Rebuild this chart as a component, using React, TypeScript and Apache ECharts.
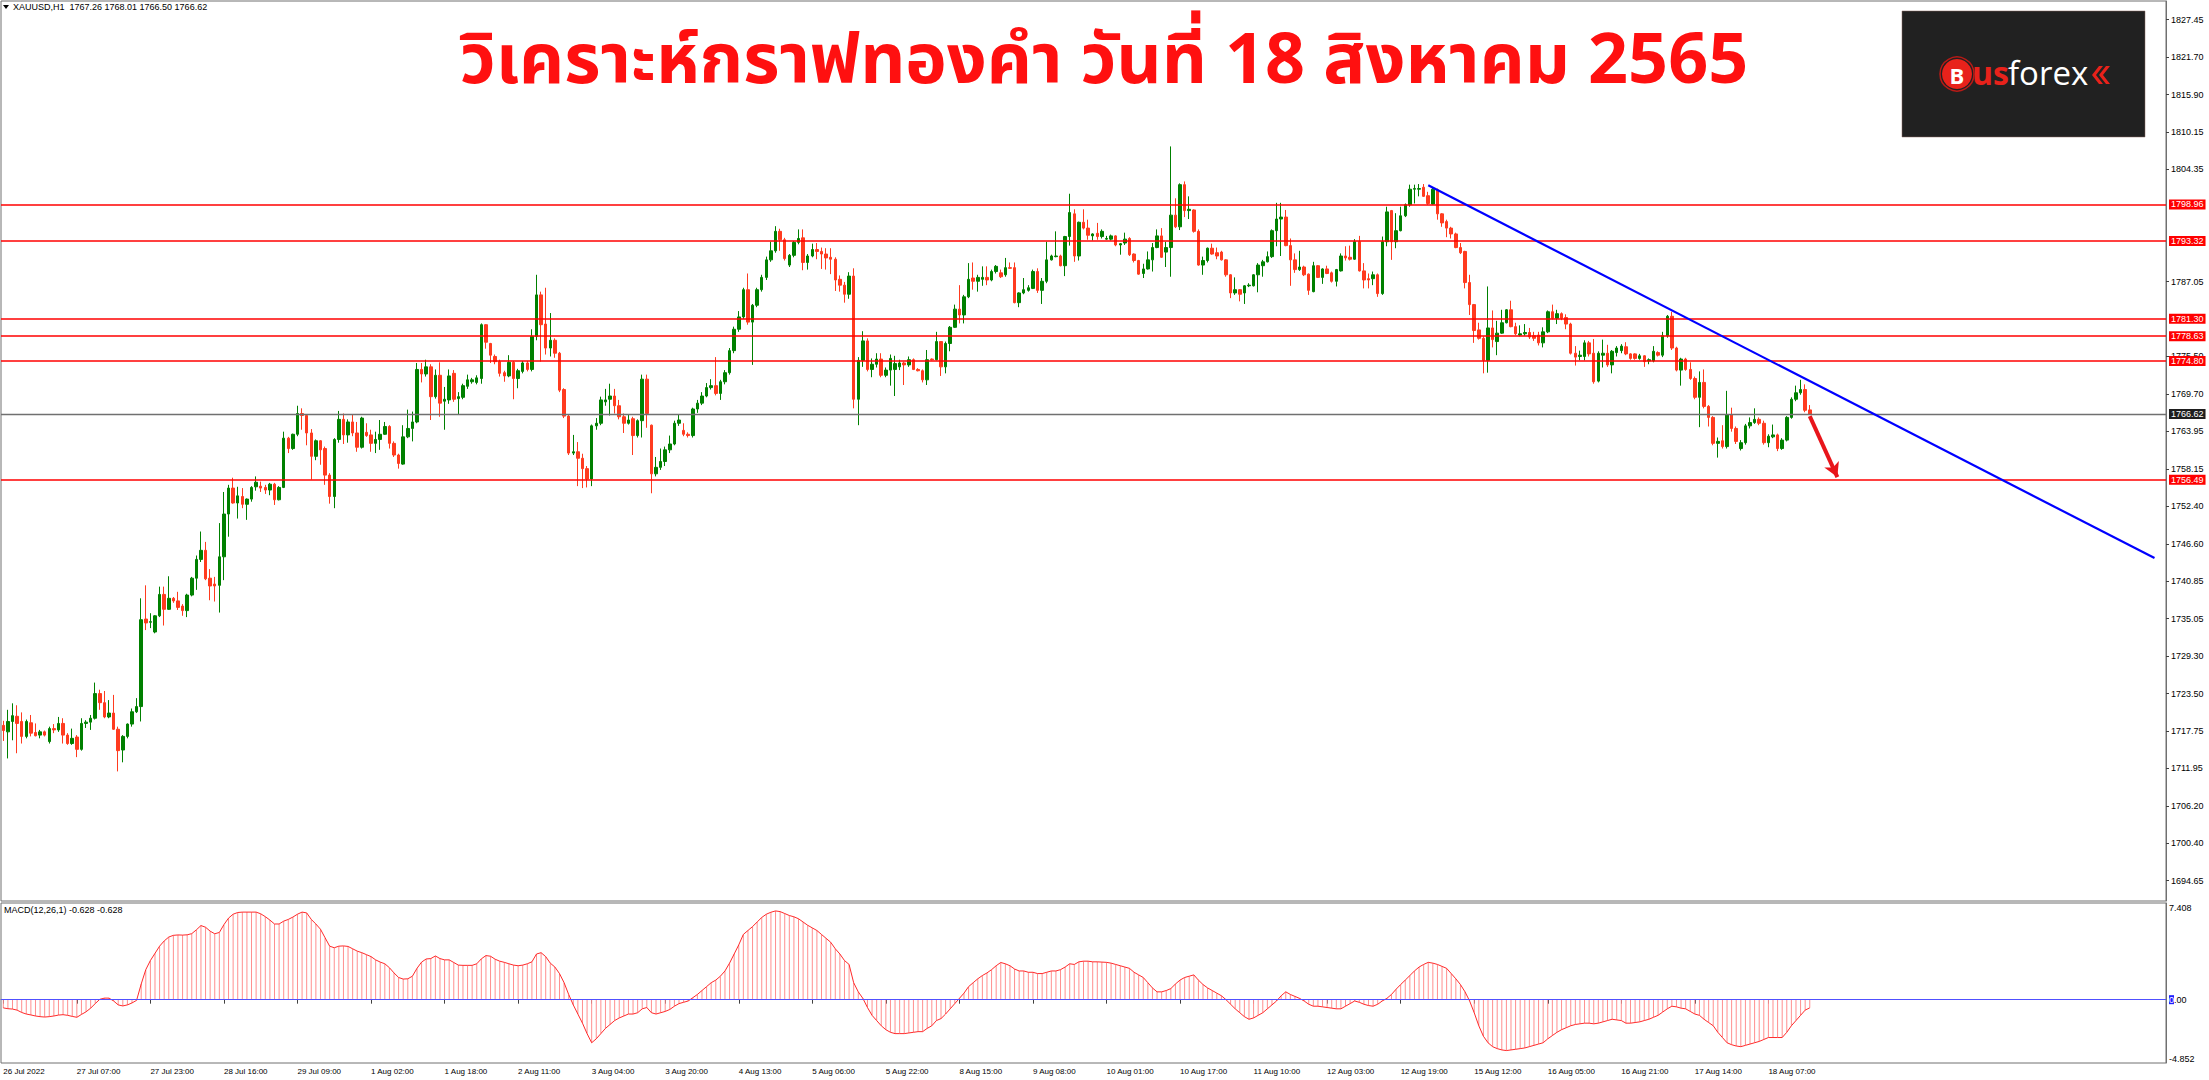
import React, { useEffect, useRef } from "react";
import * as echarts from "echarts";

// ---------- DATA ----------
const tickLabels = [
  "26 Jul 2022", "27 Jul 07:00", "27 Jul 23:00", "28 Jul 16:00", "29 Jul 09:00",
  "1 Aug 02:00", "1 Aug 18:00", "2 Aug 11:00", "3 Aug 04:00", "3 Aug 20:00",
  "4 Aug 13:00", "5 Aug 06:00", "5 Aug 22:00", "8 Aug 15:00", "9 Aug 08:00",
  "10 Aug 01:00", "10 Aug 17:00", "11 Aug 10:00", "12 Aug 03:00", "12 Aug 19:00",
  "15 Aug 12:00", "16 Aug 05:00", "16 Aug 21:00", "17 Aug 14:00", "18 Aug 07:00",
];
const barsPerTick = 16;
const slotCount = 471;

// [open, high, low, close]
const week1: number[][] = [
  [1718.6,1719.3,1716.2,1717.8],[1717.6,1721.0,1713.5,1719.2],[1719.2,1722.0,1716.3,1720.1],[1720.0,1721.7,1714.3,1718.9],
  [1719.2,1720.6,1715.8,1716.9],[1716.9,1719.5,1716.6,1719.2],[1719.0,1720.2,1716.9,1717.4],[1717.5,1718.9,1716.9,1717.0],
  [1717.1,1717.9,1716.6,1717.6],[1717.6,1717.8,1716.9,1717.1],[1716.1,1718.4,1715.8,1718.1],[1718.1,1718.8,1717.4,1717.9],
  [1717.9,1719.9,1717.6,1718.9],[1718.9,1719.7,1715.8,1717.1],[1717.1,1717.4,1715.6,1715.8],[1715.8,1718.1,1715.6,1716.6],
  [1716.8,1717.1,1713.7,1714.9],[1714.9,1719.7,1714.7,1718.9],[1718.9,1719.4,1718.2,1719.1],[1719.1,1720.2,1717.9,1719.7],
  [1719.7,1725.2,1719.5,1723.5],[1723.5,1724.1,1721.0,1722.1],[1722.1,1723.9,1719.7,1719.9],[1719.9,1722.5,1719.7,1720.5],
  [1720.5,1723.3,1717.9,1718.0],[1718.0,1718.4,1711.5,1714.7],[1714.8,1717.1,1712.9,1716.9],[1716.9,1718.9,1716.6,1718.8],
  [1718.8,1721.2,1718.4,1720.7],[1720.7,1722.8,1720.5,1721.5],[1721.5,1738.2,1719.2,1734.9],[1735.0,1740.2,1733.3,1734.4],
  [1734.5,1735.9,1733.6,1734.6],[1733.0,1735.6,1732.8,1735.5],[1735.5,1740.0,1735.3,1738.8],[1738.8,1740.0,1734.0,1736.5],
  [1736.5,1741.6,1736.4,1738.2],[1738.2,1738.4,1737.5,1737.8],[1737.8,1739.2,1736.4,1736.8],[1737.0,1737.3,1735.5,1736.3],
  [1736.3,1738.9,1735.3,1738.7],[1738.7,1741.5,1738.5,1741.3],[1741.3,1744.8,1739.5,1744.2],[1744.2,1748.5,1743.8,1745.6],
  [1745.6,1746.9,1741.0,1741.2],[1741.3,1742.7,1737.9,1740.1],[1740.4,1741.5,1737.7,1740.1],[1740.2,1749.8,1736.0,1744.6],
  [1744.6,1754.6,1741.0,1751.2],[1751.2,1755.7,1747.7,1755.2],[1755.2,1756.8,1752.8,1752.9],[1752.9,1755.4,1750.5,1754.0],
  [1753.9,1755.2,1752.1,1752.7],[1752.7,1753.6,1750.3,1753.5],[1753.5,1755.5,1753.1,1755.3],[1755.4,1757.0,1754.8,1756.1],
  [1755.5,1756.2,1754.6,1755.2],[1755.3,1755.7,1754.3,1754.9],[1754.9,1756.0,1754.1,1755.8],[1755.8,1756.0,1752.6,1753.4],
  [1753.4,1755.5,1753.3,1755.3],[1755.3,1763.9,1755.2,1762.9],[1762.9,1763.1,1760.6,1761.3],[1761.3,1763.6,1761.1,1763.5],
  [1763.5,1767.9,1763.2,1766.7],[1766.7,1767.5,1764.2,1766.4],[1766.4,1766.5,1761.8,1763.7],[1763.7,1764.3,1756.5,1760.1],
  [1760.1,1762.7,1759.5,1762.5],[1762.5,1762.6,1758.8,1761.1],[1761.3,1761.6,1755.7,1757.2],[1757.2,1757.5,1752.8,1753.9],
  [1753.9,1762.9,1752.1,1762.7],[1762.7,1767.1,1762.2,1765.8],[1765.8,1766.7,1762.0,1763.4],[1763.4,1765.8,1762.2,1765.4],
  [1765.4,1766.6,1763.2,1763.7],[1763.7,1765.4,1760.8,1761.5],[1761.5,1766.2,1761.3,1766.0],
];
const week2: number[][] = [
  [1763.8,1765.2,1763.1,1763.3],[1763.4,1764.2,1760.8,1762.1],[1762.1,1763.9,1760.6,1762.7],[1762.7,1765.7,1761.1,1763.5],
  [1763.5,1765.4,1763.4,1764.7],[1764.7,1764.9,1761.3,1762.1],[1762.1,1762.4,1760.0,1760.3],[1760.3,1760.5,1758.2,1759.0],
  [1758.9,1764.9,1758.8,1763.1],[1763.1,1767.3,1762.9,1764.4],[1764.4,1767.0,1762.4,1765.4],[1765.4,1774.5,1765.2,1773.5],
  [1773.5,1774.5,1771.5,1772.8],[1772.8,1775.0,1772.4,1773.9],[1773.9,1774.3,1765.7,1769.3],[1769.3,1773.5,1769.0,1772.6],
  [1772.6,1774.6,1766.2,1768.3],[1768.6,1770.8,1764.2,1768.9],[1768.8,1773.5,1768.2,1772.5],[1772.9,1773.4,1768.5,1768.9],
  [1769.0,1770.0,1766.5,1769.3],[1769.2,1771.3,1768.9,1771.0],[1770.9,1772.7,1770.5,1771.9],[1771.6,1772.2,1771.3,1771.9],
  [1771.5,1772.6,1771.2,1772.2],[1772.1,1780.6,1771.3,1780.4],[1780.4,1780.5,1776.7,1777.7],[1777.5,1777.6,1774.5,1775.7],
  [1775.5,1775.8,1774.3,1774.7],[1774.7,1775.0,1772.4,1772.9],[1773.0,1773.3,1771.6,1772.5],[1772.5,1775.7,1772.3,1774.6],
  [1774.6,1774.8,1768.9,1772.1],[1772.1,1773.6,1770.6,1773.3],[1773.2,1774.8,1772.9,1774.5],[1774.5,1774.8,1773.2,1773.5],
  [1773.5,1779.7,1773.2,1778.6],[1778.6,1788.1,1778.0,1785.0],[1785.0,1785.5,1774.7,1780.4],[1780.5,1786.1,1775.8,1776.8],
  [1776.8,1782.2,1775.5,1778.0],[1778.0,1778.3,1775.3,1776.0],[1776.0,1776.2,1770.0,1770.3],[1770.4,1770.6,1766.0,1766.3],
  [1766.3,1766.5,1760.3,1760.6],[1760.6,1763.4,1760.3,1760.8],[1760.8,1762.3,1755.5,1759.8],[1759.8,1760.5,1755.2,1758.2],
  [1758.2,1758.6,1755.3,1756.6],[1756.6,1765.0,1755.5,1764.8],[1764.8,1766.0,1764.2,1765.2],[1765.2,1769.3,1764.9,1768.8],
  [1768.5,1770.5,1767.9,1768.8],[1768.9,1771.3,1766.4,1769.4],[1769.4,1770.5,1766.7,1767.9],[1767.9,1768.8,1765.8,1766.2],
  [1766.2,1766.7,1763.7,1765.2],[1765.2,1766.6,1765.0,1765.7],[1765.9,1766.2,1760.3,1763.3],[1763.3,1765.8,1763.0,1765.6],
  [1765.6,1772.7,1763.0,1772.0],[1772.0,1772.7,1764.5,1766.7],[1764.9,1765.0,1754.4,1757.4],[1757.4,1760.0,1757.0,1758.4],
  [1758.4,1761.3,1758.0,1759.3],[1759.3,1761.6,1758.6,1761.1],[1761.1,1763.3,1760.6,1762.0],[1762.0,1765.6,1761.8,1765.2],
  [1765.2,1766.6,1764.8,1765.7],[1764.1,1765.2,1763.2,1763.5],[1763.5,1763.8,1763.0,1763.3],[1763.3,1767.6,1763.0,1767.4],
  [1767.4,1768.8,1766.8,1768.3],[1768.3,1770.0,1768.0,1769.4],[1769.4,1771.4,1769.2,1770.7],[1770.7,1772.0,1770.4,1771.0],
  [1771.0,1775.4,1769.5,1769.8],[1769.8,1771.9,1768.8,1771.6],[1771.6,1773.4,1771.2,1773.0],[1773.0,1776.8,1772.7,1776.4],
  [1776.4,1780.1,1776.0,1779.7],[1779.7,1782.5,1779.3,1781.6],[1781.6,1786.1,1781.3,1785.8],[1785.8,1788.3,1780.4,1780.8],
  [1780.8,1783.6,1774.2,1783.4],[1783.4,1786.1,1783.1,1785.8],[1785.8,1788.1,1785.5,1787.7],[1787.7,1790.9,1787.3,1790.4],
  [1790.4,1793.2,1790.1,1791.8],[1791.8,1795.6,1791.5,1794.8],[1794.8,1795.2,1791.8,1793.5],[1793.5,1793.8,1790.3,1790.6],
  [1789.6,1791.3,1789.3,1791.1],[1791.1,1793.3,1790.8,1793.1],[1793.1,1795.1,1792.8,1793.7],[1793.8,1795.1,1788.8,1790.0],
  [1790.0,1791.3,1788.9,1791.0],[1791.0,1792.9,1790.8,1792.0],[1792.0,1793.0,1790.5,1791.7],[1791.7,1792.3,1789.0,1791.3],
  [1791.3,1792.2,1788.9,1790.7],[1790.8,1792.2,1788.2,1790.5],[1790.5,1790.8,1785.6,1787.3],[1787.4,1788.0,1785.5,1786.5],
  [1786.5,1787.0,1783.8,1785.1],[1785.1,1788.5,1784.4,1787.9],[1787.9,1789.1,1767.5,1768.9],[1768.9,1775.4,1764.9,1774.9],
  [1774.9,1779.4,1773.9,1777.9],[1777.9,1778.3,1773.2,1773.5],[1773.5,1775.2,1772.3,1774.3],[1774.3,1776.0,1773.8,1775.1],
  [1775.1,1776.0,1772.3,1772.6],[1772.6,1773.8,1772.3,1773.4],[1773.4,1775.8,1771.0,1775.2],
];
const week3: number[][] = [
  [1773.5,1775.6,1769.4,1774.4],[1773.9,1775.0,1773.4,1774.5],[1774.5,1774.7,1771.1,1774.2],[1774.2,1775.5,1773.9,1775.0],
  [1775.0,1775.2,1773.4,1773.5],[1773.5,1773.7,1773.2,1773.3],[1773.3,1773.5,1771.5,1771.9],[1771.9,1776.5,1771.1,1775.0],
  [1775.1,1775.2,1774.9,1775.0],[1775.0,1779.3,1774.9,1777.8],[1777.8,1777.8,1772.5,1773.9],[1773.9,1777.8,1772.9,1777.5],
  [1777.5,1780.2,1776.3,1780.0],[1780.0,1783.5,1779.9,1782.8],[1782.8,1786.5,1780.6,1781.9],[1781.9,1785.0,1780.6,1784.7],
  [1784.7,1789.9,1784.5,1787.4],[1787.6,1790.0,1785.8,1787.1],[1787.1,1788.1,1785.5,1787.7],[1787.4,1789.4,1786.4,1787.7],
  [1787.7,1789.4,1786.5,1787.3],[1787.3,1788.9,1787.1,1788.6],[1788.6,1789.6,1788.3,1789.4],[1788.4,1788.9,1787.6,1787.8],
  [1788.1,1790.7,1787.8,1789.2],[1789.2,1790.0,1789.0,1789.1],[1789.2,1790.0,1783.7,1783.8],[1783.8,1785.4,1783.1,1785.3],
  [1785.3,1787.6,1785.1,1785.8],[1785.7,1786.5,1785.5,1786.1],[1786.0,1788.9,1785.9,1788.6],[1788.6,1789.1,1785.3,1785.7],
  [1785.7,1787.6,1783.6,1787.1],[1787.1,1793.2,1786.8,1790.4],[1790.4,1791.2,1790.3,1791.0],[1790.9,1794.8,1790.8,1791.0],
  [1791.0,1791.2,1789.4,1789.5],[1789.5,1794.1,1787.9,1794.0],[1794.0,1800.6,1792.6,1797.7],[1797.5,1798.2,1790.1,1791.0],
  [1791.0,1796.3,1790.3,1796.2],[1796.2,1798.2,1795.1,1795.3],[1795.3,1796.6,1793.5,1794.2],[1794.1,1794.5,1793.4,1794.4],
  [1794.5,1796.1,1793.5,1794.0],[1794.0,1795.1,1793.7,1794.8],[1793.6,1794.1,1793.5,1793.7],[1793.6,1794.3,1793.4,1794.1],
  [1794.1,1794.2,1792.5,1792.7],[1792.7,1793.0,1791.2,1792.9],[1793.0,1794.6,1792.7,1793.6],[1793.7,1793.9,1791.0,1791.2],
  [1791.3,1791.4,1790.0,1790.3],[1790.3,1790.4,1788.1,1788.2],[1788.3,1789.8,1787.6,1789.0],[1789.0,1791.7,1788.9,1790.4],
  [1790.4,1793.0,1788.6,1792.3],[1792.3,1795.1,1792.2,1794.1],[1794.1,1795.3,1790.7,1790.8],[1791.6,1793.2,1789.3,1792.3],
  [1792.3,1807.9,1787.8,1797.3],[1797.3,1799.9,1795.3,1795.5],[1795.5,1802.2,1795.0,1802.0],[1802.0,1802.5,1797.0,1798.0],
  [1798.0,1800.2,1796.7,1798.2],[1798.1,1798.2,1794.6,1794.8],[1794.8,1795.1,1789.5,1789.6],[1789.6,1790.9,1788.1,1790.3],
  [1790.3,1792.3,1790.0,1792.2],[1792.2,1792.9,1791.2,1791.3],[1791.5,1792.3,1790.5,1791.0],[1791.6,1791.8,1790.3,1790.4],
  [1790.4,1790.5,1787.8,1788.1],[1788.1,1788.2,1784.5,1785.3],[1785.3,1787.7,1785.0,1785.8],[1785.8,1785.9,1784.0,1785.1],
  [1785.3,1786.5,1783.6,1786.4],[1786.4,1786.8,1786.2,1786.5],[1786.4,1788.2,1786.3,1788.1],[1788.1,1789.9,1785.4,1789.6],
  [1789.5,1790.4,1787.8,1790.1],[1790.1,1791.7,1790.0,1790.9],[1790.9,1795.1,1790.7,1794.9],[1794.9,1799.2,1792.5,1796.7],
  [1796.7,1799.2,1791.0,1797.0],[1797.0,1798.1,1792.5,1792.6],[1792.6,1793.7,1786.4,1790.4],[1790.4,1791.4,1788.4,1788.9],
  [1788.9,1791.8,1788.7,1789.3],[1789.3,1789.5,1787.9,1788.1],[1788.2,1788.3,1785.0,1785.7],[1785.5,1790.1,1785.4,1789.5],
  [1789.5,1789.6,1787.6,1787.7],[1787.7,1789.1,1786.7,1789.0],[1789.0,1789.5,1788.2,1788.3],[1788.4,1788.6,1786.9,1787.1],
  [1787.1,1789.0,1786.3,1788.9],[1788.7,1791.4,1788.6,1791.0],[1791.0,1792.5,1790.3,1790.7],[1790.8,1792.6,1790.3,1790.5],
  [1790.5,1793.6,1790.4,1793.2],[1793.2,1794.1,1788.6,1788.7],[1788.7,1789.9,1786.0,1787.3],[1787.5,1788.3,1786.0,1787.3],
  [1787.5,1788.6,1786.5,1788.1],[1788.1,1788.3,1784.7,1785.2],[1785.2,1794.0,1785.0,1793.2],[1793.2,1798.6,1792.5,1797.8],
  [1798.0,1798.1,1790.4,1793.2],[1793.2,1797.6,1792.2,1794.9],[1794.9,1798.6,1794.8,1797.2],[1797.2,1799.1,1797.0,1798.9],
  [1798.9,1802.0,1798.6,1801.3],[1801.3,1802.0,1799.1,1801.4],[1801.3,1802.1,1800.2,1801.4],
];
const week4: number[][] = [
  [1801.6,1802.1,1800.1,1800.2],[1800.3,1800.9,1798.9,1799.1],[1799.0,1801.6,1798.9,1801.3],[1801.2,1801.4,1796.6,1797.5],
  [1797.5,1797.6,1795.5,1796.1],[1796.3,1796.6,1793.9,1795.3],[1795.3,1795.5,1793.7,1794.4],[1794.4,1794.6,1792.2,1792.3],
  [1792.3,1793.0,1791.3,1791.5],[1791.7,1791.8,1786.0,1786.9],[1786.9,1788.1,1781.9,1783.5],[1783.5,1783.6,1777.6,1779.5],
  [1779.6,1780.7,1778.1,1778.3],[1778.3,1778.6,1772.9,1774.9],[1774.9,1786.3,1773.0,1779.9],[1779.9,1782.6,1776.9,1778.1],
  [1777.8,1781.0,1775.7,1779.1],[1779.1,1782.7,1779.0,1780.7],[1780.7,1782.8,1780.6,1782.7],[1782.7,1784.1,1780.0,1780.1],
  [1780.1,1780.7,1778.8,1779.0],[1778.8,1780.3,1778.6,1779.0],[1779.0,1780.5,1778.7,1779.2],[1779.2,1779.9,1778.2,1778.5],
  [1778.7,1779.3,1777.9,1778.3],[1778.8,1779.3,1777.2,1777.6],[1777.6,1780.0,1776.9,1779.3],[1779.3,1782.6,1779.1,1782.4],
  [1782.4,1783.5,1781.2,1781.4],[1781.4,1782.7,1780.5,1782.1],[1782.1,1782.3,1781.1,1781.4],[1781.5,1782.0,1779.7,1780.5],
  [1780.5,1780.7,1775.8,1776.0],[1776.0,1777.1,1774.1,1775.4],[1775.5,1776.4,1774.9,1775.7],[1775.5,1778.0,1774.9,1777.6],
  [1777.6,1777.9,1775.5,1775.9],[1776.0,1778.2,1771.3,1771.6],[1771.7,1776.3,1771.5,1776.0],[1775.7,1778.1,1773.8,1776.0],
  [1776.0,1777.3,1773.9,1774.2],[1774.2,1776.5,1772.9,1776.3],[1776.1,1777.1,1775.5,1776.8],[1776.4,1777.4,1776.0,1777.1],
  [1777.0,1777.7,1775.7,1775.9],[1775.9,1776.0,1775.0,1775.2],[1775.9,1776.0,1775.0,1775.2],[1775.2,1775.9,1775.0,1775.6],
  [1775.6,1775.7,1773.9,1774.7],[1774.8,1775.2,1774.3,1775.0],[1774.8,1777.1,1774.6,1776.3],[1776.1,1776.3,1775.5,1775.7],
  [1775.7,1779.3,1775.4,1778.7],[1778.7,1781.9,1778.4,1781.7],[1781.7,1782.4,1776.5,1776.8],[1776.8,1777.0,1773.2,1773.4],
  [1773.4,1775.3,1771.0,1775.1],[1775.1,1775.3,1773.3,1773.5],[1773.5,1774.6,1771.9,1772.1],[1772.1,1772.4,1768.9,1769.2],
  [1769.2,1773.2,1764.6,1771.5],[1771.5,1773.5,1767.5,1767.8],[1767.8,1768.0,1764.7,1766.1],[1766.1,1766.3,1761.8,1762.1],
  [1762.1,1763.0,1759.9,1762.4],[1762.5,1764.9,1761.3,1761.6],[1761.6,1770.2,1761.3,1766.5],[1766.5,1767.6,1763.9,1764.4],
  [1764.4,1764.7,1762.0,1762.4],[1761.3,1762.6,1761.0,1762.2],[1762.2,1765.1,1761.9,1764.8],[1764.8,1766.1,1764.4,1765.3],
  [1765.3,1767.5,1765.1,1765.8],[1765.8,1766.1,1764.9,1765.2],[1765.2,1765.6,1761.9,1762.2],[1762.2,1763.5,1761.5,1763.2],
  [1763.1,1765.0,1762.9,1763.4],[1763.4,1763.6,1760.9,1761.3],[1761.3,1762.9,1761.1,1762.6],[1762.6,1766.3,1762.4,1766.1],
  [1766.1,1769.2,1765.9,1768.9],[1768.9,1771.0,1768.6,1769.9],[1769.9,1771.9,1769.6,1770.4],[1770.4,1771.2,1766.9,1767.2],
  [1767.26,1768.01,1766.50,1766.62],
];

const macdW1 = [
  -0.63,-0.69,-0.72,-0.8,-0.98,-1.1,-1.17,-1.25,-1.3,-1.33,
  -1.3,-1.25,-1.18,-1.15,-1.2,-1.28,-1.35,-1.13,-0.93,-0.65,
  -0.3,0.03,0.12,0.12,-0.1,-0.4,-0.48,-0.4,-0.25,-0.05,
  1.2,2.3,3.0,3.55,4.1,4.5,4.8,4.93,4.96,4.95,
  4.97,5.06,5.35,5.68,5.55,5.25,5.05,5.15,5.75,6.25,
  6.55,6.68,6.71,6.71,6.71,6.71,6.58,6.36,6.1,5.8,
  5.8,6.02,6.15,6.33,6.55,6.71,6.65,6.15,5.8,5.4,
  4.75,4.1,3.98,4.1,4.12,4.08,3.9,3.72,3.6,
];
const macdW2 = [
  3.45,3.3,3.05,2.88,2.75,2.45,2.05,1.7,1.58,1.6,
  1.8,2.4,2.88,3.12,3.15,3.35,3.15,3.05,3.05,2.85,
  2.65,2.63,2.63,2.63,2.75,3.13,3.38,3.33,3.1,2.95,
  2.86,2.75,2.65,2.6,2.65,2.75,2.9,3.5,3.6,3.3,
  2.8,2.5,2.0,1.3,0.4,-0.4,-1.1,-1.8,-2.6,-3.3,
  -3.0,-2.6,-2.2,-1.9,-1.6,-1.4,-1.25,-1.1,-1.1,-1.0,
  -0.7,-0.6,-1.0,-1.1,-1.0,-0.9,-0.75,-0.5,-0.3,-0.2,
  -0.1,0.15,0.4,0.7,1.0,1.3,1.5,1.8,2.2,2.8,
  3.5,4.2,5.0,5.3,5.6,5.95,6.3,6.55,6.7,6.8,
  6.75,6.6,6.45,6.35,6.2,5.95,5.7,5.5,5.3,5.0,
  4.7,4.4,3.9,3.5,3.0,2.7,1.3,0.6,0.1,-0.6,
  -1.2,-1.6,-2.0,-2.3,-2.5,
];
const macdW3 = [
  -2.6,-2.6,-2.6,-2.55,-2.5,-2.45,-2.45,-2.2,-2.0,-1.6,-1.45,-1.1,-0.7,-0.3,
  0.1,0.5,1.0,1.3,1.6,1.85,
  2.05,2.3,2.6,2.85,2.75,2.6,2.35,2.2,2.2,2.1,
  2.1,2.0,2.0,2.1,2.2,2.2,2.3,2.5,2.75,2.7,
  2.9,2.95,2.95,2.9,2.9,2.88,2.86,2.8,2.7,2.6,
  2.5,2.4,2.1,1.9,1.7,1.3,0.9,0.6,0.6,0.7,
  0.85,1.2,1.5,1.7,1.8,1.9,1.5,1.16,0.9,0.7,
  0.5,0.3,0.0,-0.35,-0.7,-1.0,-1.3,-1.5,-1.4,-1.2,
  -1.0,-0.7,-0.4,-0.1,0.3,0.6,0.4,0.25,0.1,-0.1,
  -0.35,-0.5,-0.5,-0.55,-0.6,-0.65,-0.7,-0.7,-0.5,-0.3,
  -0.1,-0.2,-0.35,-0.45,-0.5,-0.35,-0.1,0.1,0.4,0.8,
  1.16,1.5,1.85,2.2,2.5,
];
const macdW4 = [
  2.7,2.86,2.8,2.7,2.55,2.4,2.0,1.6,1.16,0.6,
  -0.1,-1.0,-2.0,-2.8,-3.3,-3.6,-3.75,-3.85,-3.9,-3.85,
  -3.8,-3.75,-3.7,-3.6,-3.5,-3.4,-3.3,-3.0,-2.75,-2.5,
  -2.3,-2.15,-2.0,-1.9,-1.85,-1.8,-1.8,-1.85,-1.8,-1.7,
  -1.6,-1.5,-1.55,-1.6,-1.8,-1.8,-1.75,-1.7,-1.6,-1.5,
  -1.35,-1.2,-0.95,-0.7,-0.5,-0.55,-0.65,-0.7,-0.9,-1.1,
  -1.2,-1.5,-1.75,-2.0,-2.5,-2.9,-3.3,-3.45,-3.55,-3.6,
  -3.5,-3.4,-3.3,-3.2,-3.05,-2.9,-2.9,-2.9,-2.9,-2.5,
  -2.0,-1.6,-1.2,-0.8,-0.628,
];

// price-scale labels visible on the right axis (those hidden under level boxes omitted)
const priceTicks = [
  1827.45, 1821.70, 1815.90, 1810.15, 1804.35, 1787.05, 1775.50,
  1769.70, 1763.95, 1758.15, 1752.40, 1746.60, 1740.85, 1735.05, 1729.30, 1723.50, 1717.75,
  1711.95, 1706.20, 1700.40, 1694.65,
];
const priceMin = 1691.51;
const priceMax = 1830.33;
const macdMin = -4.852;
const macdMax = 7.408;
const levelLines = [1798.96, 1793.32, 1781.30, 1778.63, 1774.80, 1756.49];
const bidPrice = 1766.62;
const trendStart = [310, 1801.9];
const trendEnd = [468, 1744.4];
const arrowStart = [393, 1766.3];
const arrowEnd = [399, 1756.9];
const headerText = "XAUUSD,H1  1767.26 1768.01 1766.50 1766.62";
const macdText = "MACD(12,26,1) -0.628 -0.628";
const titleText = "วิเคราะห์กราฟทองคำ วันที่ 18 สิงหาคม 2565";

// ---------- COMPONENT ----------
export default function App() {
  const ref = useRef<HTMLDivElement>(null);

  useEffect(() => {
    if (!ref.current) return;
    const chart = echarts.init(ref.current, null, { renderer: "svg" });

    const ohlc = [...week1, ...week2, ...week3, ...week4];
    const candleData = ohlc.map(([o, h, l, c]) => [o, c, l, h]);
    const macd = [...macdW1, ...macdW2, ...macdW3, ...macdW4];
    const categories = Array.from({ length: slotCount }, (_, i) =>
      i % barsPerTick === 0 && i / barsPerTick < tickLabels.length ? tickLabels[i / barsPerTick] : ""
    );
    const showTick = (_i: number, v: string) => v !== "";
    const axisFont = "Liberation Sans, Arial, sans-serif";
    const gridLeft = 1;
    const gridRight = 43;

    const levelLabel = (v: number, bg: string) => ({
      show: true,
      position: "end",
      formatter: v.toFixed(2),
      backgroundColor: bg,
      color: "#ffffff",
      fontSize: 9,
      fontFamily: axisFont,
      lineHeight: 10,
      padding: [0, 2, 0, 2],
      distance: 3,
    });

    const option: any = {
      animation: false,
      backgroundColor: "#ffffff",
      grid: [
        { left: gridLeft, right: gridRight, top: 1, height: 900, show: true, borderColor: "#707070", borderWidth: 1, backgroundColor: "#ffffff" },
        { left: gridLeft, right: gridRight, top: 903, height: 160, show: true, borderColor: "#707070", borderWidth: 1, backgroundColor: "#ffffff" },
      ],
      xAxis: [
        {
          type: "category", gridIndex: 0, data: categories, boundaryGap: true,
          axisLine: { show: false }, axisTick: { show: false }, axisLabel: { show: false }, splitLine: { show: false },
        },
        {
          type: "category", gridIndex: 1, data: categories, boundaryGap: true,
          axisLine: { show: true, lineStyle: { color: "#707070" } },
          axisTick: { show: true, interval: showTick, alignWithLabel: true, length: 4, lineStyle: { color: "#404040" } },
          axisLabel: { interval: showTick, align: "left", fontSize: 8, fontFamily: axisFont, color: "#000000", margin: 4 },
          splitLine: { show: false },
        },
      ],
      yAxis: [
        {
          type: "value", gridIndex: 0, position: "right", min: priceMin, max: priceMax, scale: true,
          splitLine: { show: false },
          axisLine: { show: true, lineStyle: { color: "#707070" } },
          axisTick: { show: true, length: 3, customValues: priceTicks, lineStyle: { color: "#404040" } },
          axisLabel: { customValues: priceTicks, formatter: (v: number) => v.toFixed(2), fontSize: 9, fontFamily: axisFont, color: "#000000", margin: 5 },
        },
        {
          type: "value", gridIndex: 1, position: "right", min: macdMin, max: macdMax,
          splitLine: { show: false },
          axisLine: { show: true, lineStyle: { color: "#707070" } },
          axisTick: { show: false },
          axisLabel: {
            customValues: [macdMin, macdMax],
            formatter: (v: number) => v.toFixed(3),
            fontSize: 9, fontFamily: axisFont, color: "#000000", margin: 3,
            verticalAlignMaxLabel: "top", verticalAlignMinLabel: "bottom",
          },
        },
      ],
      series: [
        {
          type: "candlestick",
          name: "XAUUSD",
          xAxisIndex: 0, yAxisIndex: 0,
          data: candleData,
          barWidth: 3,
          itemStyle: { color: "#008000", color0: "#ff3b1f", borderColor: "#008000", borderColor0: "#ff3b1f", borderWidth: 1 },
          markLine: {
            silent: true, symbol: ["none", "none"], animation: false,
            data: [
              ...levelLines.map((v) => ({ yAxis: v, lineStyle: { color: "#ff0000", width: 1.5, type: "solid" }, label: levelLabel(v, "#ff0000") })),
              { yAxis: bidPrice, lineStyle: { color: "#707070", width: 1.3, type: "solid" }, label: levelLabel(bidPrice, "#1e1e1e") },
              [
                { coord: trendStart, lineStyle: { color: "#0000ff", width: 2.2, type: "solid" }, label: { show: false } },
                { coord: trendEnd },
              ],
            ],
          },
        },
        {
          type: "line",
          name: "arrow",
          xAxisIndex: 0, yAxisIndex: 0,
          data: [],
          markLine: {
            silent: true, symbol: ["none", "arrow"], symbolSize: [12, 14], animation: false,
            lineStyle: { color: "#e8151b", width: 4, type: "solid" },
            label: { show: false },
            data: [[{ coord: arrowStart }, { coord: arrowEnd }]],
          },
        },
        {
          type: "bar",
          name: "MACD hist",
          xAxisIndex: 1, yAxisIndex: 1,
          data: macd,
          barWidth: 1,
          itemStyle: { color: "#ff8f8f" },
          markLine: {
            silent: true, symbol: ["none", "none"], animation: false,
            data: [{
              yAxis: 0,
              lineStyle: { color: "#5050ff", width: 1, type: "solid" },
              label: {
                show: true, position: "end", distance: 3,
                formatter: "{b|0}.00",
                fontSize: 9, fontFamily: axisFont, color: "#000000",
                rich: { b: { backgroundColor: "#2020ff", color: "#ffffff", fontSize: 9, fontFamily: axisFont } },
              },
            }],
          },
        },
        {
          type: "line",
          name: "MACD signal",
          xAxisIndex: 1, yAxisIndex: 1,
          data: macd,
          symbol: "none",
          lineStyle: { color: "#ff2a2a", width: 1 },
        },
      ],
      graphic: [
        { type: "polygon", shape: { points: [[3, 5], [9, 5], [6, 9]] }, style: { fill: "#000000" } },
        { type: "text", x: 13, y: 2, style: { text: headerText, fontSize: 9, fontFamily: axisFont, fill: "#000000" } },
        { type: "text", x: 4, y: 905, style: { text: macdText, fontSize: 9, fontFamily: axisFont, fill: "#000000" } },
        {
          type: "text", x: 1104, y: 62,
          style: {
            text: titleText,
            fontSize: 70, fontWeight: "bold",
            fontFamily: '"Noto Sans Thai", "Noto Sans Thai UI", Kanit, Loma, Garuda, "Noto Sans", sans-serif',
            fill: "#ff1010",
            align: "center", verticalAlign: "middle", textAlign: "center", textVerticalAlign: "middle",
          },
        },
        {
          type: "group",
          children: [
            { type: "rect", shape: { x: 1902, y: 11, width: 243, height: 126 }, style: { fill: "#212121", stroke: "#8a6a60", lineWidth: 0.5 } },
            { type: "circle", shape: { cx: 1957, cy: 74, r: 15 }, style: { fill: "#e8221b" } },
            { type: "circle", shape: { cx: 1957, cy: 74, r: 17 }, style: { fill: "none", stroke: "#b81a16", lineWidth: 1.5 } },
            {
              type: "text", x: 1957, y: 75,
              style: { text: "B", fontSize: 22, fontWeight: "bold", fontFamily: "Open Sans, sans-serif", fill: "#ffffff", align: "center", verticalAlign: "middle", textAlign: "center", textVerticalAlign: "middle" },
            },
            {
              type: "text", x: 1972, y: 72,
              style: { text: "us", fontSize: 32, fontWeight: "bold", fontFamily: "Open Sans, sans-serif", fill: "#e8221b", verticalAlign: "middle", textVerticalAlign: "middle" },
            },
            {
              type: "text", x: 2008, y: 72,
              style: { text: "forex", fontSize: 33, fontFamily: "Open Sans, sans-serif", fill: "#ffffff", verticalAlign: "middle", textVerticalAlign: "middle" },
            },
            { type: "polygon", shape: { points: [[2099, 66], [2092, 75], [2099, 84], [2103, 84], [2096, 75], [2103, 66]] }, style: { fill: "#e8221b" } },
            { type: "polygon", shape: { points: [[2106, 66], [2099, 75], [2106, 84], [2110, 84], [2103, 75], [2110, 66]] }, style: { fill: "#e8221b" } },
          ],
        },
      ],
    };

    chart.setOption(option);
    return () => chart.dispose();
  }, []);

  return (
    <div
      ref={ref}
      style={{ position: "fixed", left: 0, top: 0, width: 2209, height: 1080, background: "#ffffff" }}
    />
  );
}
